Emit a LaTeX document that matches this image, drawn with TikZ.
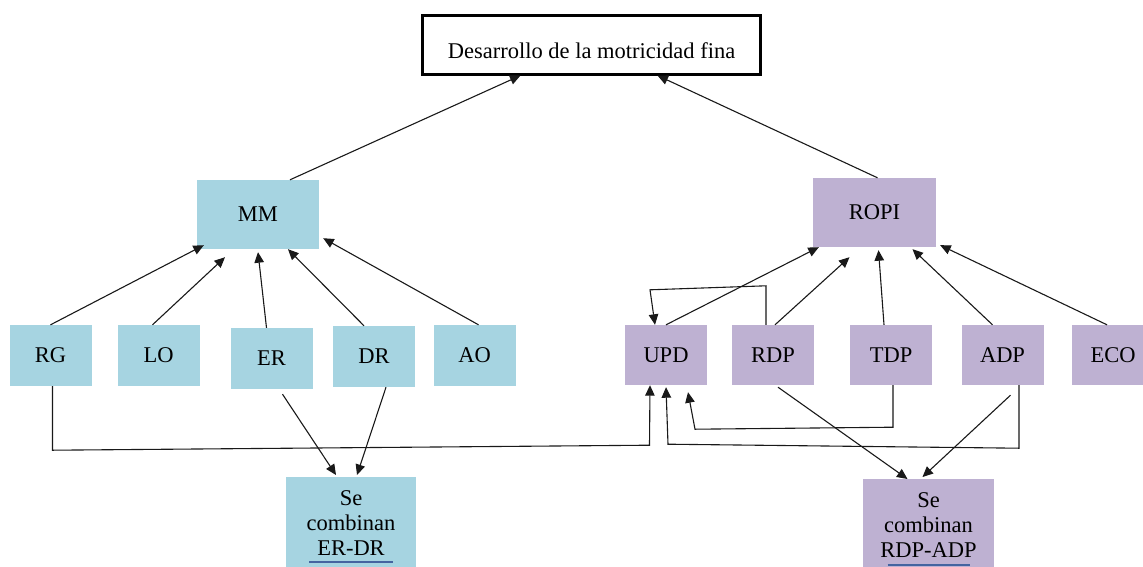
\documentclass[tikz,border=0pt]{standalone}
\usepackage{fontspec}
\setmainfont{Liberation Serif}
\usetikzlibrary{arrows.meta}
\definecolor{boxblue}{RGB}{166,212,225}
\definecolor{boxpurple}{RGB}{190,177,210}
\definecolor{ulblue}{RGB}{68,100,160}

\begin{document}
\begin{tikzpicture}[x=1pt,y=-1pt,
    every node/.style={font=\fontsize{22.5}{25}\selectfont, inner sep=0pt},
    bluebox/.style={fill=boxblue, minimum width=82pt, minimum height=61pt},
    purplebox/.style={fill=boxpurple, minimum width=82pt, minimum height=60pt},
    link/.style={line width=1.1pt, draw=black!90, -{Triangle[length=10.5pt,width=9.5pt]}}]
  \clip (0,0) rectangle (1143,566);
  \useasboundingbox (0,0) rectangle (1143,566);

  \node[draw, line width=3pt, minimum width=338pt, minimum height=59pt, text height=27pt, text depth=0pt] (title) at (591.5,44.5) {Desarrollo de la motricidad fina};

  \node[bluebox, minimum width=122pt, minimum height=69pt] (MM) at (258,214.5) {MM};
  \node[purplebox, minimum width=123pt, minimum height=69pt] (ROPI) at (874.5,212.5) {ROPI};

  \foreach \name/\x in {RG/50.5, LO/158.5, AO/474.5}
    \node[bluebox] (\name) at (\x,355.5) {\name};
  \node[bluebox] (ER) at (271.5,358.5) {ER};
  \node[bluebox] (DR) at (374,356.5) {DR};
  \foreach \name/\x in {UPD/666, RDP/773, TDP/891, ADP/1002.5, ECO/1113}
    \node[purplebox] (\name) at (\x,355) {\name};

  \node[bluebox, anchor=north, minimum width=130pt, align=center, inner ysep=13pt] (ERDR) at (351,477) {Se\\combinan\\ER-DR};
  \node[purplebox, anchor=north, minimum width=131pt, align=center, inner ysep=13pt] (RDPADP) at (928.5,479) {Se\\combinan\\RDP-ADP};
  \draw[ulblue, line width=2pt] ([xshift=-42pt,yshift=-85pt]ERDR.north) -- ++(84,0);
  \draw[ulblue, line width=2pt] ([xshift=-41pt,yshift=-86pt]RDPADP.north) -- ++(82,0);

  \draw[link] ([xshift=32pt]MM.north) -- ([xshift=-71pt]title.south);
  \draw[link] ([xshift=3pt]ROPI.north) -- ([xshift=66pt]title.south);

  \draw[link] (RG.north) -- ([xshift=7pt,yshift=4pt]MM.south west);
  \draw[link] ([xshift=-6pt]LO.north) -- ([xshift=-33pt,yshift=-8pt]MM.south);
  \draw[link] ([xshift=-5pt]ER.north) -- ([yshift=-3pt]MM.south);
  \draw[link] ([xshift=-10pt]DR.north) -- ([xshift=30pt]MM.south);
  \draw[link] ([xshift=4pt]AO.north) -- ([xshift=4pt,yshift=11pt]MM.south east);

  \draw[link] (UPD.north) -- ([xshift=6pt]ROPI.south west);
  \draw[link] ([xshift=2pt]RDP.north) -- ([xshift=-25pt,yshift=-10pt]ROPI.south);
  \draw[link] ([xshift=-7pt]TDP.north) -- ([xshift=4pt,yshift=-3pt]ROPI.south);
  \draw[link] ([xshift=-10pt]ADP.north) -- ([xshift=38pt,yshift=-2pt]ROPI.south);
  \draw[link] ([xshift=-6pt]ECO.north) -- ([xshift=4pt,yshift=2pt]ROPI.south east);

  \draw[link] ([xshift=-7pt]RDP.north) -- ++(0,-39) -- ++(-116,4) -- ([xshift=-11pt]UPD.north);
  \draw[link] ([xshift=2pt]TDP.south) -- ++(0,42) -- ++(-198,2) -- ([xshift=22pt,yshift=-7pt]UPD.south);
  \draw[link] ([xshift=16.5pt]ADP.south) -- ++(0,63) -- ++(-351,-4) -- ([yshift=-2pt]UPD.south);
  \draw[link] ([xshift=2pt]RG.south) -- ++(0,64) -- ++(597,-5) -- ([xshift=-16pt]UPD.south);

  \draw[link] ([xshift=11pt,yshift=-5pt]ER.south) -- ([xshift=-15pt,yshift=2pt]ERDR.north);
  \draw[link] ([xshift=12pt]DR.south) -- ([xshift=6pt,yshift=2pt]ERDR.north);
  \draw[link] ([xshift=5pt,yshift=-2pt]RDP.south) -- ([xshift=-21pt]RDPADP.north);
  \draw[link] ([xshift=8pt,yshift=-10pt]ADP.south) -- ([xshift=-6pt,yshift=2pt]RDPADP.north);
\end{tikzpicture}
\end{document}
